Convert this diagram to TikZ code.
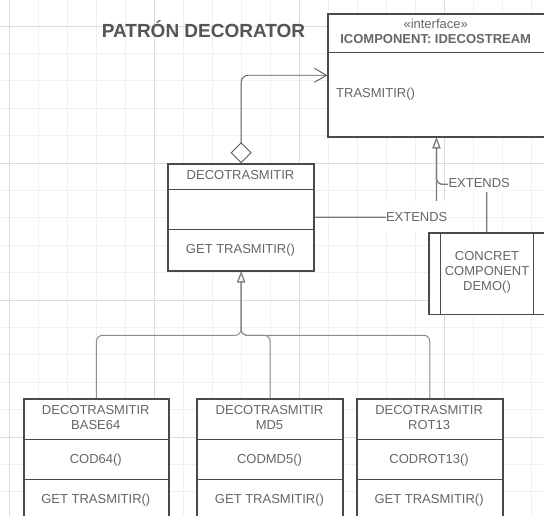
\documentclass[tikz,border=0pt]{standalone}
\usepackage{fontspec}
\setmainfont{Liberation Sans}
\usetikzlibrary{arrows.meta,calc}
\definecolor{gridminor}{HTML}{F0F0F0}
\definecolor{gridmajor}{HTML}{DCDCDC}
\definecolor{boxline}{HTML}{4A4A4A}
\definecolor{txt}{HTML}{666666}
\definecolor{titlec}{HTML}{555555}
\definecolor{conn}{HTML}{5A5A5A}
\definecolor{extc}{HTML}{7A7A7A}
\definecolor{branch}{HTML}{8C8C8C}
\begin{document}
\begin{tikzpicture}[x=1pt,y=-1pt,
  cls/.style={draw=boxline, fill=white, line width=1.3pt, inner sep=0pt, anchor=north west},
  divl/.style={draw=boxline, line width=1.3pt},
  tx/.style={text=txt, font=\fontsize{13}{15}\selectfont, inner sep=0pt, anchor=base},
  txb/.style={tx, font=\fontsize{13}{15}\selectfont\bfseries},
  agg/.style={draw=conn, line width=0.9pt, rounded corners=7pt,
     arrows={Diamond[open,length=21pt,width=21pt]-Straight Barb[length=12pt,width=14pt]}},
  ext/.style={draw=extc, line width=1.3pt, rounded corners=6pt,
     arrows={-Triangle[open,length=11pt,width=8pt,line width=1pt]}},
  inh/.style={draw=branch, line width=1pt, rounded corners=6pt,
     arrows={-Triangle[open,length=11pt,width=8pt]}},
  extlbl/.style={fill=white, text=txt, font=\fontsize{13}{15}\selectfont, text height=9.3pt, text depth=0pt}
]
\clip (0,0) rectangle (544,516);
\fill[white] (0,0) rectangle (544,516);
% grid
\foreach \i in {0,...,18} \draw[gridminor, line width=0.8pt] ({9.4+29*\i},0) -- ({9.4+29*\i},516);
\foreach \j in {0,...,17} \draw[gridminor, line width=0.8pt] (0,{26+27.4*\j}) -- (544,{26+27.4*\j});
\foreach \i in {0,5,10,15} \draw[gridmajor, line width=0.8pt] ({9.4+29*\i},0) -- ({9.4+29*\i},516);
\foreach \j in {0,5,10,15} \draw[gridmajor, line width=0.8pt] (0,{26+27.4*\j}) -- (544,{26+27.4*\j});

% title
\node[text=titlec, font=\fontsize{19}{21}\selectfont\bfseries, inner sep=0pt, anchor=base] (title) at (203.5,37.6) {PATRÓN DECORATOR};

% class boxes
\node[cls, minimum width=217pt, minimum height=122.7pt] (iface) at (327.3,13.3) {};
\node[cls, minimum width=145.6pt, minimum height=106.7pt] (deco) at (167.7,163.3) {};
\node[cls, minimum width=115.7pt, minimum height=81.2pt] (concret) at (428.3,232.3) {};
\node[cls, minimum width=145pt, minimum height=121pt] (b1) at (23.3,398.3) {};
\node[cls, minimum width=145pt, minimum height=121pt] (b2) at (197,398.3) {};
\node[cls, minimum width=145pt, minimum height=121pt] (b3) at (356.6,398.3) {};

% connectors
\draw[agg] (deco.north) |- (iface.west);
\draw[ext] (deco.east) -| (iface.south);
\draw[ext] (concret.north) |- ($(iface.south)+(0,47)$) -- (iface.south);
\draw[inh] (b1.north) |- ($(deco.south)+(0,64)$) -- (deco.south);
\draw[inh] (b2.north) |- ($(deco.south)+(0,64)$) -- (deco.south);
\draw[inh] (b3.north) |- ($(deco.south)+(0,64)$) -- (deco.south);

% redraw box outlines on top of connectors
\foreach \n in {iface,deco,concret,b1,b2,b3} \draw[boxline, line width=1.3pt] (\n.north west) rectangle (\n.south east);

% dividers
\draw[divl] (iface.west |- 0,52.7) -- (iface.east |- 0,52.7);
\draw[divl] (deco.west |- 0,189.3) -- (deco.east |- 0,189.3);
\draw[divl] (deco.west |- 0,229.3) -- (deco.east |- 0,229.3);
\foreach \n in {b1,b2,b3} {
  \draw[divl] (\n.west |- 0,439.3) -- (\n.east |- 0,439.3);
  \draw[divl] (\n.west |- 0,479.3) -- (\n.east |- 0,479.3);
}
\draw[divl] (440.7,232.3) -- (440.7,313.5);
\draw[divl] (533.3,232.3) -- (533.3,313.5);

% texts
\node[tx] (istereo) at (435.7,28.6) {«interface»};
\node[txb] (iname) at (435.7,44) {ICOMPONENT: IDECOSTREAM};
\node[tx, anchor=base west] (imeth) at (336,97.6) {TRASMITIR()};

\node[tx] (dname) at (240.5,179.6) {DECOTRASMITIR};
\node[tx] (dmeth) at (240.5,253) {GET TRASMITIR()};

\node[tx] (cl1) at (487,260.8) {CONCRET};
\node[tx] (cl2) at (487,275.8) {COMPONENT};
\node[tx] (cl3) at (487,290.8) {DEMO()};

\node[tx] (b1a) at (95.8,414.7) {DECOTRASMITIR};
\node[tx] (b1b) at (95.8,429.7) {BASE64};
\node[tx] (b1m) at (95.8,463) {COD64()};
\node[tx] (b1g) at (95.8,503.6) {GET TRASMITIR()};

\node[tx] (b2a) at (269.5,414.7) {DECOTRASMITIR};
\node[tx] (b2b) at (269.5,429.7) {MD5};
\node[tx] (b2m) at (269.5,463) {CODMD5()};
\node[tx] (b2g) at (269.5,503.6) {GET TRASMITIR()};

\node[tx] (b3a) at (429.1,414.7) {DECOTRASMITIR};
\node[tx] (b3b) at (429.1,429.7) {ROT13};
\node[tx] (b3m) at (429.1,463) {CODROT13()};
\node[tx] (b3g) at (429.1,503.6) {GET TRASMITIR()};

% connector labels
\node[extlbl, inner xsep=0.5pt, inner ysep=11pt] (ext1) at (416.7,216.6) {EXTENDS};
\node[extlbl, inner xsep=1pt, inner ysep=4.5pt] (ext2) at (479.2,183) {EXTENDS};
\end{tikzpicture}
\end{document}
